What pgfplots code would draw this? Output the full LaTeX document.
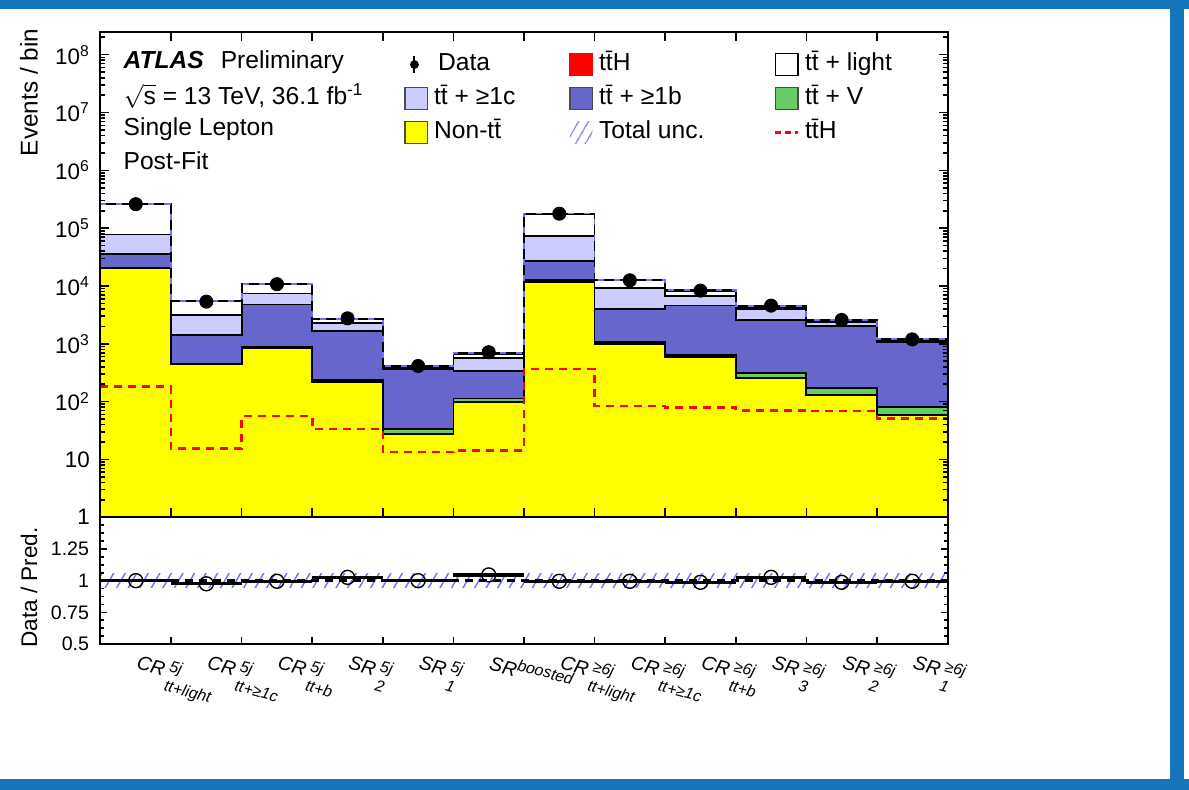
\documentclass[border=0pt]{standalone}
\usepackage{fontspec}
\setmainfont{Liberation Sans}
\usepackage{amsmath}
\usepackage{pgfplots}
\usepackage{pgfplotstable}
\pgfplotsset{compat=1.18}
\usetikzlibrary{patterns.meta}

\definecolor{ttc}{RGB}{204,204,255}
\definecolor{ttb}{RGB}{102,102,204}
\definecolor{ttv}{RGB}{102,204,102}
\definecolor{nontt}{RGB}{255,255,0}
\definecolor{hatch}{RGB}{110,110,255}
\definecolor{framecol}{RGB}{22,116,186}

\newcommand\tbar{t\={t}}
% bin label: #1 main, #2 superscript, #3 subscript
\newcommand\lab[3]{\textit{#1}\kern2pt\makebox[0pt][l]{\raisebox{3pt}{\fontsize{8}{9}\selectfont\textit{#2}}}\raisebox{-7pt}{\fontsize{8}{9}\selectfont\textit{#3}}}

\pgfplotstableread{
x T L C B G Y H
0 2.6e5 2.57e5 7.8e4 3.53e4 2.08e4 2.0e4 184
1 5500 5450 3200 1400 454 440 15.4
2 1.08e4 1.07e4 7400 4770 880 850 56
3 2690 2660 2290 1670 234 222 33.6
4 413 405 387 363 34 28 13.4
5 685 670 569 339 113 98 14.4
6 1.79e5 1.77e5 7.24e4 2.71e4 1.25e4 1.17e4 367
7 1.26e4 1.24e4 9240 3950 1060 980 84
8 8430 8300 6640 4580 650 584 80
9 4460 4400 4010 2550 310 260 71
10 2620 2580 2420 2010 170 132 69
11 1200 1180 1150 1090 81 58 51
12 1200 1180 1150 1090 81 58 51
}\stack

\pgfplotstableread{
x D R ex
0.5 2.6e5 1.000 0.5
1.5 5363 0.975 0.5
2.5 10746 0.995 0.5
3.5 2760 1.026 0.5
4.5 413 1.000 0.5
5.5 716 1.045 0.5
6.5 1.78e5 0.995 0.5
7.5 1.254e4 0.995 0.5
8.5 8320 0.987 0.5
9.5 4576 1.026 0.5
10.5 2586 0.987 0.5
11.5 1194 0.995 0.5
}\data

\pgfplotsset{
  lay/.style={const plot, draw=black, line width=0.9pt, fill=#1, forget plot},
  boxleg/.style={legend image code/.code={\draw[##1] (0pt,-5.6pt) rectangle (11.3pt,5.6pt);}},
}

\begin{document}
\begin{tikzpicture}
\useasboundingbox (0,0) rectangle (594.5pt,395pt);

\begin{axis}[
  at={(50.25pt,379.15pt)}, anchor=north west,
  scale only axis, width=423.5pt, height=242.8pt,
  xmin=0, xmax=12, ymode=log, ymin=1, ymax=2.5e8,
  axis on top,
  axis line style={line width=1pt},
  tick align=inside, xtick pos=both, ytick pos=both,
  major tick length=4.5pt, minor tick length=2.5pt,
  tick style={black, line width=0.8pt},
  xtick={1,2,3,4,5,6,7,8,9,10,11}, xticklabels={},
  ytick={1,10,100,1000,10000,100000,1000000,10000000,100000000},
  yticklabels={1,10,10\textsuperscript{2},10\textsuperscript{3},10\textsuperscript{4},10\textsuperscript{5},10\textsuperscript{6},10\textsuperscript{7},10\textsuperscript{8}},
  minor ytick={2,3,4,5,6,7,8,9,20,30,40,50,60,70,80,90,200,300,400,500,600,700,800,900,2000,3000,4000,5000,6000,7000,8000,9000,2e4,3e4,4e4,5e4,6e4,7e4,8e4,9e4,2e5,3e5,4e5,5e5,6e5,7e5,8e5,9e5,2e6,3e6,4e6,5e6,6e6,7e6,8e6,9e6,2e7,3e7,4e7,5e7,6e7,7e7,8e7,9e7,2e8},
  yticklabel style={font=\fontsize{11.2}{13}\selectfont, xshift=-1.8pt},
  ylabel={Events / bin},
  ylabel style={font=\fontsize{12.15}{14}\selectfont, at={(axis description cs:-0.0844,1.02)}, anchor=east},
  legend columns=3,
  legend style={at={(0.3585,0.957)}, anchor=north west, draw=none, fill=none,
    inner sep=0pt, outer sep=0pt, row sep=5pt,
    font=\fontsize{12.3}{14}\selectfont,
    nodes={inner sep=0pt, text height=9pt, text depth=3pt},
    /tikz/every odd column/.style={column sep=3pt}},
  legend cell align=left,
]
\addplot[lay=red] table[x=x,y=T]{\stack} \closedcycle;
\addplot[lay=white] table[x=x,y=L]{\stack} \closedcycle;
\addplot[lay=ttc] table[x=x,y=C]{\stack} \closedcycle;
\addplot[lay=ttb] table[x=x,y=B]{\stack} \closedcycle;
\addplot[lay=ttv] table[x=x,y=G]{\stack} \closedcycle;
\addplot[lay=nontt] table[x=x,y=Y]{\stack} \closedcycle;
\addplot[const plot, draw=hatch, line width=0.9pt, dash pattern=on 3pt off 5pt, forget plot] table[x=x,y=T]{\stack};
\addplot[const plot, draw=red, line width=1.3pt, dash pattern=on 4pt off 3pt, forget plot] table[x=x,y=H]{\stack};
\addplot[only marks, mark=*, mark size=3.3pt, black, forget plot] table[x=x,y=D]{\data};

\node[anchor=base west, font=\fontsize{12.3}{14}\selectfont] at (rel axis cs:0.019,0.9232) {\textbf{\textit{ATLAS}}\hspace{8.5pt}Preliminary};
\node[anchor=base west, font=\fontsize{12.3}{14}\selectfont] at (rel axis cs:0.019,0.850) {$\sqrt{\mbox{s}}$ = 13 TeV, 36.1 fb\textsuperscript{-1}};
\node[anchor=base west, font=\fontsize{12.3}{14}\selectfont] at (rel axis cs:0.019,0.7853) {Single Lepton};
\node[anchor=base west, font=\fontsize{12.3}{14}\selectfont] at (rel axis cs:0.019,0.7152) {Post-Fit};

\addlegendimage{legend image code/.code={\draw[black, line width=1pt] (4.8pt,-4.3pt)--(4.8pt,4.3pt); \fill[black] (4.8pt,0pt) circle (2pt); \path[draw=none, fill=none] (0pt,-5.6pt) rectangle (11.3pt,5.6pt);}}
\addlegendentry{\makebox[67.5pt][l]{\hspace{2pt}Data}}
\addlegendimage{boxleg, fill=red, draw=red}
\addlegendentry{\makebox[87.5pt][l]{\tbar H}}
\addlegendimage{boxleg, fill=white, draw=black, line width=0.7pt}
\addlegendentry{\tbar\ + light}
\addlegendimage{boxleg, fill=ttc, draw=black!70, line width=0.7pt}
\addlegendentry{\makebox[67.5pt][l]{\tbar\ + ≥1c}}
\addlegendimage{boxleg, fill=ttb, draw=black!70, line width=0.7pt}
\addlegendentry{\makebox[87.5pt][l]{\tbar\ + ≥1b}}
\addlegendimage{boxleg, fill=ttv, draw=black!70, line width=0.7pt}
\addlegendentry{\tbar\ + V}
\addlegendimage{boxleg, fill=nontt, draw=black!70, line width=0.7pt}
\addlegendentry{\makebox[67.5pt][l]{Non-\tbar}}
\addlegendimage{legend image code/.code={\fill[draw=none, pattern={Lines[angle=60,distance=4pt,line width=0.7pt]}, pattern color=hatch] (0pt,-5.6pt) rectangle (11.3pt,5.6pt);}}
\addlegendentry{\makebox[87.5pt][l]{Total unc.}}
\addlegendimage{legend image code/.code={\draw[red, line width=1.2pt, dash pattern=on 3pt off 2pt] (0pt,0pt)--(11.3pt,0pt);}}
\addlegendentry{\tbar H}
\end{axis}

\begin{axis}[
  at={(50.25pt,136.35pt)}, anchor=north west,
  scale only axis, width=423.5pt, height=63.35pt,
  xmin=0, xmax=12, ymin=0.5, ymax=1.5,
  axis on top,
  axis line style={line width=1pt},
  tick align=inside, xtick pos=bottom, ytick pos=both,
  major tick length=3.5pt, minor tick length=2pt,
  tick style={black, line width=0.8pt},
  xtick={1,2,3,4,5,6,7,8,9,10,11}, xticklabels={},
  ytick={0.5,0.75,1,1.25}, yticklabels={0.5,0.75,1,1.25},
  minor ytick={0.5625,0.625,0.6875,0.8125,0.875,0.9375,1.0625,1.125,1.1875,1.3125,1.375,1.4375},
  yticklabel style={font=\fontsize{9.8}{12}\selectfont, xshift=-2.2pt},
  ylabel={Data / Pred.},
  ylabel style={font=\fontsize{11.3}{13}\selectfont, at={(axis description cs:-0.0844,0.446)}, anchor=center},
  extra x ticks={0.5,1.5,2.5,3.5,4.5,5.5,6.5,7.5,8.5,9.5,10.5,11.5},
  extra x tick labels={
    {\lab{CR}{5j}{tt+light}},
    {\lab{CR}{5j}{tt+≥1c}},
    {\lab{CR}{5j}{tt+b}},
    {\lab{SR}{5j}{2}},
    {\lab{SR}{5j}{1}},
    {\textit{SR}\raisebox{3.5pt}{\fontsize{8}{9}\selectfont\textit{boosted}}},
    {\lab{CR}{≥6j}{tt+light}},
    {\lab{CR}{≥6j}{tt+≥1c}},
    {\lab{CR}{≥6j}{tt+b}},
    {\lab{SR}{≥6j}{3}},
    {\lab{SR}{≥6j}{2}},
    {\lab{SR}{≥6j}{1}}},
  extra x tick style={major tick length=0pt,
    tick label style={rotate=-15, anchor=north west, font=\fontsize{9.8}{11}\selectfont, inner sep=0pt, xshift=3pt, yshift=-3pt}},
]
\addplot[pattern={Lines[angle=60,distance=5pt,line width=0.7pt]}, pattern color=hatch, draw=none, forget plot] coordinates {(0,0.945) (12,0.945) (12,1.055) (0,1.055)} -- cycle;
\addplot[black, line width=1.2pt, dash pattern=on 4pt off 3pt, forget plot] coordinates {(0,1) (12,1)};
\addplot[only marks, mark=o, mark size=3.5pt, black, line width=0.7pt,
  error bars/.cd, x dir=both, x explicit, error mark=none, error bar style={line width=1.6pt, black}]
  table[x=x, y=R, x error=ex]{\data};
\end{axis}

\fill[framecol] (0pt,390.5pt) rectangle (594.5pt,395pt);
\fill[framecol] (585pt,0pt) rectangle (592pt,395pt);
\fill[framecol] (0pt,0pt) rectangle (594.5pt,5.5pt);
\end{tikzpicture}
\end{document}
